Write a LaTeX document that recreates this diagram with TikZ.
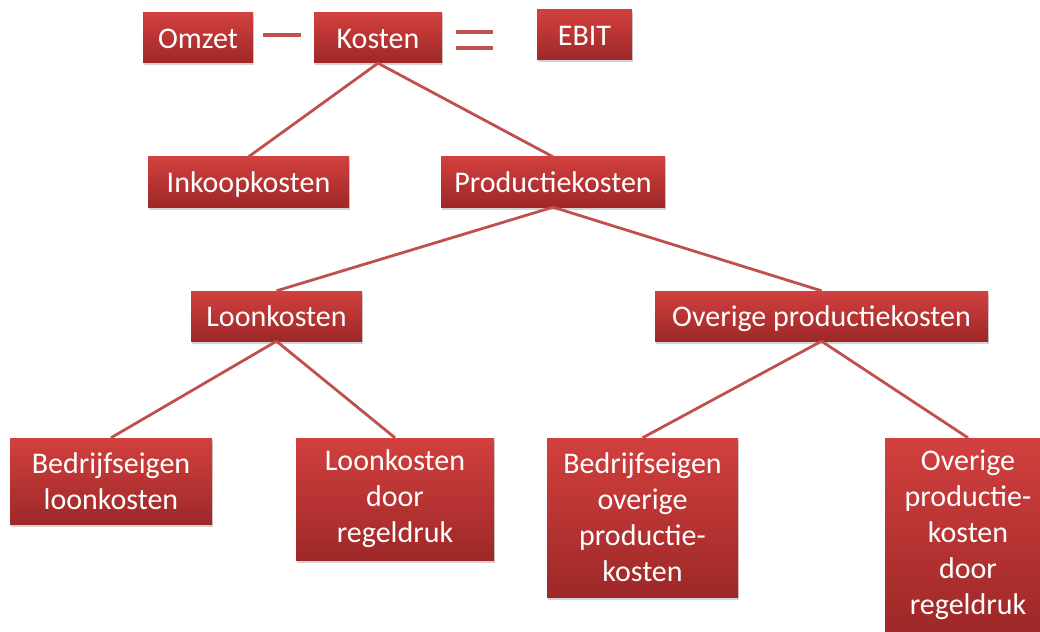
\documentclass[tikz,border=0pt]{standalone}
\usepackage{fontspec}
\setmainfont{Carlito}
\usetikzlibrary{shadows}
\definecolor{boxtop}{RGB}{209,64,62}
\definecolor{boxbot}{RGB}{158,40,40}
\definecolor{linkred}{RGB}{192,80,77}
\tikzset{
  box/.style={rectangle, top color=boxtop, bottom color=boxbot, draw=none,
    text=white, align=center, inner sep=0pt,
    font=\fontsize{30}{36}\selectfont,
    drop shadow={opacity=0.35, shadow xshift=1pt, shadow yshift=-2.5pt}},
  oneline/.style={box, text height=21pt, text depth=0pt, minimum height=50pt},
  link/.style={draw=linkred, line width=2.8pt},
  sign/.style={draw=linkred, line width=3.5pt}
}
\begin{document}
\begin{tikzpicture}[x=1pt,y=-1pt]
\useasboundingbox (0,0) rectangle (1040,631);
\node[oneline, minimum width=110pt] (omzet) at (198,38) {Omzet};
\node[oneline, minimum width=128pt] (kosten) at (378,38) {Kosten};
\node[oneline, minimum width=95pt] (ebit) at (584.5,35) {EBIT};
\node[oneline, minimum width=201pt] (inkoop) at (248.5,182) {Inkoopkosten};
\node[oneline, minimum width=224pt] (prod) at (553,182) {Productiekosten};
\node[oneline, minimum width=171pt] (loon) at (276.5,316) {Loonkosten};
\node[oneline, minimum width=333pt] (overig) at (821.5,316) {Overige productiekosten};
\node[box, minimum width=202pt, minimum height=86pt] (beloon) at (111,481) {Bedrijfseigen\\loonkosten};
\node[box, minimum width=198pt, minimum height=122pt] (loonreg) at (395,499) {Loonkosten\\door\\regeldruk};
\node[box, minimum width=191pt, minimum height=159pt] (beoverig) at (642.5,517.5) {Bedrijfseigen\\overige\\productie-\\kosten};
\node[box, minimum width=166pt, minimum height=193pt] (overreg) at (968,534.5) {Overige\\productie-\\kosten\\door\\regeldruk};
% minus and equals signs
\coordinate (m1) at (263,35); \coordinate (m2) at (301,35);
\coordinate (e1) at (456,32); \coordinate (e2) at (493,32);
\coordinate (e3) at (456,48); \coordinate (e4) at (493,48);
\draw[sign] (m1) -- (m2);
\draw[sign] (e1) -- (e2);
\draw[sign] (e3) -- (e4);
% connectors
\draw[link] (kosten.south) -- (inkoop.north);
\draw[link] (kosten.south) -- (prod.north);
\draw[link] (prod.south) -- (loon.north);
\draw[link] (prod.south) -- (overig.north);
\draw[link] (loon.south) -- (beloon.north);
\draw[link] (loon.south) -- (loonreg.north);
\draw[link] (overig.south) -- (beoverig.north);
\draw[link] (overig.south) -- (overreg.north);
\end{tikzpicture}
\end{document}
